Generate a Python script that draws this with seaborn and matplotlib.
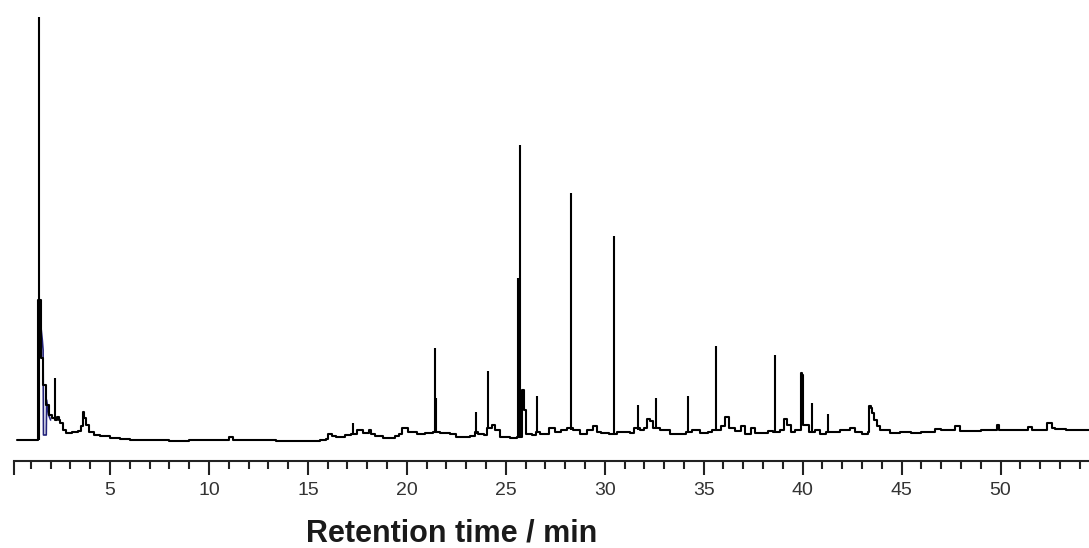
import numpy as np
import pandas as pd
import matplotlib
matplotlib.use('Agg')
import matplotlib.pyplot as plt
import seaborn as sns

# chromatogram trace (time in min, signal in arbitrary units)
base_time = [0.30, 1.33, 1.36, 1.50, 1.52, 1.62, 1.64, 1.75, 1.77, 1.87, 1.92, 2.05, 2.20, 2.32, 2.40,
             2.48, 2.63, 2.78, 3.08, 3.39, 3.54, 3.62, 3.70, 3.80, 3.95, 4.20, 4.50, 5.00, 5.50, 6.00,
             7.0, 8.0, 9.0, 10.9, 11.0, 11.2, 12.5, 13.4, 14.6, 15.6, 15.9, 16.0, 16.2, 16.4, 16.9,
             17.2, 17.5, 17.8, 18.1, 18.2, 18.4, 18.8, 19.4, 19.6, 19.75, 20.05, 20.5, 20.9, 21.3, 21.6,
             21.7, 22.2, 22.5, 23.2, 23.45, 23.6, 23.9, 24.05, 24.3, 24.45, 24.7, 25.2, 25.55, 25.8, 25.9,
             26.0, 26.3, 26.55, 26.75, 27.0, 27.2, 27.5, 27.8, 28.1, 28.4, 28.75, 29.1, 29.4, 29.6, 29.8,
             30.2, 30.6, 30.8, 31.3, 31.5, 31.8, 32.0, 32.15, 32.3, 32.45, 32.8, 33.3, 33.8, 34.1, 34.4,
             34.8, 35.2, 35.4, 35.7, 35.9, 36.1, 36.3, 36.6, 36.9, 37.1, 37.4, 37.6, 37.8, 38.25, 38.5,
             38.85, 39.05, 39.2, 39.4, 39.6, 39.85, 39.9, 39.96, 40.0, 40.3, 40.6, 40.9, 41.2, 41.5, 41.9,
             42.1, 42.4, 42.65, 43.0, 43.3, 43.35, 43.45, 43.5, 43.6, 43.75, 43.9, 44.4, 44.9, 45.5, 46.0,
             46.4, 46.7, 47.0, 47.2, 47.7, 47.95, 48.5, 49.0, 49.8, 49.9, 50.5, 51.4, 51.6, 52.0, 52.35,
             52.6, 52.75, 53.3, 54.47]
base_signal = [0, 0, 140, 140, 82, 82, 55, 55, 35, 35, 25, 22, 20, 23, 20,
               17, 10, 7, 8, 9, 14, 28, 22, 15, 8, 5, 4, 2, 1, 0,
               0, -1, 0, 0, 3, 0, 0, -1, -1, 0, 1, 6, 4, 3, 5,
               6, 10, 7, 10, 6, 4, 2, 4, 6, 12, 8, 6, 7, 8, 8,
               7, 6, 3, 4, 8, 6, 5, 12, 15, 10, 3, 2, 3, 50, 30,
               6, 5, 8, 6, 6, 12, 8, 10, 12, 10, 6, 10, 14, 8, 7,
               6, 8, 8, 7, 12, 10, 12, 21, 19, 12, 10, 6, 6, 8, 10,
               7, 8, 10, 10, 14, 23, 12, 9, 14, 6, 12, 7, 7, 9, 8,
               10, 21, 15, 8, 10, 10, 67, 65, 15, 8, 10, 6, 8, 8, 10,
               10, 12, 8, 6, 8, 34, 32, 27, 20, 14, 10, 7, 8, 7, 8,
               8, 11, 10, 10, 14, 9, 9, 10, 15, 10, 10, 13, 10, 10, 17,
               12, 11, 10, 10]

# sharp peaks
peak_time = [1.41, 2.22, 17.3, 21.40, 21.45, 23.50, 24.10, 25.64, 25.70, 26.60, 28.30, 30.45,
             31.70, 32.60, 34.20, 35.60, 38.60, 40.45, 41.30]
peak_top = [423, 62, 17, 92, 42, 28, 69, 162, 295, 44, 247, 204,
            35, 42, 44, 94, 85, 37, 26]
peak_foot = [0, 20, 6, 8, 8, 6, 12, 3, 3, 8, 10, 6,
             10, 12, 8, 10, 8, 8, 8]

# second (blue) trace, only visible at the solvent front
blue_time = [1.36, 1.42, 1.58, 1.62, 1.64, 1.78, 1.80, 1.90, 2.00]
blue_signal = [0, 130, 100, 90, 5, 5, 40, 25, 20]

major_ticks = [5, 10, 15, 20, 25, 30, 35, 40, 45, 50]

sns.set_style('white')
plt.rcParams['font.family'] = ['Liberation Sans', 'DejaVu Sans']

fig = plt.figure(figsize=(10.89, 5.48), dpi=100)
ax = fig.add_axes([14 / 1089, 87 / 548, 1 - 14 / 1089, 461 / 548])

trace = pd.DataFrame({'time': base_time, 'signal': base_signal})
blue = pd.DataFrame({'time': blue_time, 'signal': blue_signal})
sns.lineplot(data=blue, x='time', y='signal', sort=False, estimator=None,
             color='#23237a', lw=1.2, ax=ax)
sns.lineplot(data=trace, x='time', y='signal', sort=False, estimator=None,
             color='black', lw=1.5, drawstyle='steps-post', ax=ax)
ax.vlines(peak_time, peak_foot, peak_top, color='black', lw=1.5)

ax.set_xlim(0.15, 54.47)
ax.set_ylim(-21, 440)
sns.despine(ax=ax, left=True, top=True, right=True)
ax.spines['bottom'].set_linewidth(1.5)
ax.spines['bottom'].set_color('#222222')
ax.set_yticks([])
ax.set_ylabel('')

ax.set_xticks([0.15] + major_ticks)
ax.set_xticklabels([''] + [str(t) for t in major_ticks])
ax.set_xticks(range(1, 55), minor=True)
ax.tick_params(axis='x', which='major', direction='out', length=10, width=1.5,
               color='#222222', labelsize=14, labelcolor='#333333', pad=5, bottom=True)
ax.tick_params(axis='x', which='minor', direction='out', length=5.5, width=1.5,
               color='#222222', bottom=True)

ax.set_xlabel('Retention time / min', fontsize=22, fontweight='bold', color='#1a1a1a',
              va='baseline')
ax.xaxis.set_label_coords(0.407, (461 - 541) / 461)

fig.savefig('out.png', dpi=100)
